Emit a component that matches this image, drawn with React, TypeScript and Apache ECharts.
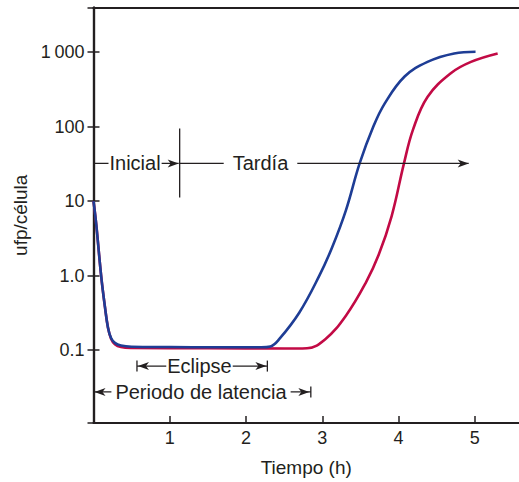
import React, { useEffect, useRef } from "react";
import * as echarts from "echarts";

// ---- data ----
const blueX = [0, 0.035, 0.1, 0.15, 0.19, 0.23, 0.28, 0.36, 0.5, 1.0, 1.6, 2.2, 2.32, 2.435, 2.7, 2.96, 3.13, 3.31, 3.49, 3.67, 3.82, 4.08, 4.38, 4.73, 5.01];
const blueY = [10, 5, 1.0, 0.38, 0.2, 0.145, 0.125, 0.115, 0.111, 0.11, 0.109, 0.109, 0.112, 0.14, 0.32, 0.99, 2.4, 7.5, 32, 100, 205, 470, 740, 960, 1010];
const redX = [0, 0.035, 0.1, 0.15, 0.19, 0.23, 0.28, 0.36, 0.5, 1.5, 2.5, 2.8, 3.04, 3.31, 3.57, 3.74, 3.91, 4.07, 4.19, 4.38, 4.69, 4.95, 5.3];
const redY = [10, 5, 1.0, 0.38, 0.2, 0.142, 0.12, 0.11, 0.107, 0.106, 0.105, 0.106, 0.14, 0.29, 0.8, 1.9, 6.3, 31.6, 91, 250, 525, 740, 960];

const xTickValues = [1, 2, 3, 4, 5];
const xTickLabels = ["1", "2", "3", "4", "5"];
const yTickValues = [0.1, 1, 10, 100, 1000];
const yTickLabels = ["0.1", "1.0", "10", "100", "1\u2009000"];

const xMin = 0;
const xMax = 5.58;
const yMin = 0.0105;
const yMax = 3970;

const xName = "Tiempo (h)";
const yName = "ufp/célula";

// annotation anchors in data coordinates
const phaseRowY = 32;
const phaseDivX = 1.13;
const phaseDivTop = 94;
const phaseDivBottom = 11.2;
const inicialText = "Inicial";
const inicialX = 0.545;
const tardiaText = "Tardía";
const tardiaX = 2.19;
const tardiaEndX = 4.92;
const eclipseText = "Eclipse";
const eclipseRowY = 0.061;
const eclipseStartX = 0.57;
const eclipseEndX = 2.28;
const eclipseTextX = 1.39;
const latText = "Periodo de latencia";
const latRowY = 0.0274;
const latStartX = 0;
const latEndX = 2.85;
const latTextX = 1.41;

const INK = "#231f20";
const BLUE = "#1e3d95";
const RED = "#c20a45";
const FONT = '"Liberation Sans", Arial, Helvetica, sans-serif';

const zipPairs = (xs: number[], ys: number[]) => xs.map((x, i) => [x, ys[i]]);

export default function App() {
  const ref = useRef<HTMLDivElement>(null);
  useEffect(() => {
    if (!ref.current) return;
    const chart = echarts.init(ref.current, undefined, { renderer: "svg" });
    const axisLine = { show: true, lineStyle: { color: INK, width: 2.2 } };
    const option: any = {
      animation: false,
      backgroundColor: "#fff",
      grid: { left: 93.5, top: 7.5, width: 427.5, height: 416.5, containLabel: false },
      xAxis: [
        {
          type: "value",
          min: xMin,
          max: xMax,
          interval: 1,
          position: "bottom",
          axisLine,
          axisTick: { show: true, inside: true, length: 7, lineStyle: { color: INK, width: 1.5 } },
          axisLabel: {
            margin: 6,
            color: INK,
            fontSize: 18,
            fontFamily: FONT,
            showMinLabel: false,
            showMaxLabel: false,
            formatter: (v: number) => {
              const i = xTickValues.findIndex((t) => Math.abs(t - v) < 1e-6);
              return i >= 0 ? xTickLabels[i] : "";
            },
          },
          splitLine: { show: false },
          name: xName,
          nameLocation: "middle",
          nameGap: 35,
          nameTextStyle: { color: INK, fontSize: 19, fontFamily: FONT },
        },
        {
          type: "value",
          min: xMin,
          max: xMax,
          interval: 1,
          position: "top",
          axisLine,
          axisTick: { show: false },
          axisLabel: { show: false },
          splitLine: { show: false },
        },
      ],
      yAxis: [
        {
          type: "log",
          logBase: 10,
          min: yMin,
          max: yMax,
          position: "left",
          axisLine,
          axisTick: { show: true, inside: true, length: 6, lineStyle: { color: INK, width: 1.5 } },
          axisLabel: {
            margin: 9,
            color: INK,
            fontSize: 18,
            fontFamily: FONT,
            formatter: (v: number) => {
              const i = yTickValues.findIndex((t) => Math.abs(Math.log10(t) - Math.log10(v)) < 1e-6);
              return i >= 0 ? yTickLabels[i] : "";
            },
          },
          splitLine: { show: false },
          name: yName,
          nameLocation: "middle",
          nameGap: 62,
          nameTextStyle: { color: INK, fontSize: 19, fontFamily: FONT },
        },
        {
          type: "log",
          logBase: 10,
          min: yMin,
          max: yMax,
          position: "right",
          axisLine,
          axisTick: { show: true, inside: true, length: 6, lineStyle: { color: INK, width: 1.5 } },
          axisLabel: { show: false },
          splitLine: { show: false },
        },
      ],
      series: [
        {
          type: "line",
          data: zipPairs(redX, redY),
          xAxisIndex: 0,
          yAxisIndex: 0,
          showSymbol: false,
          smooth: 0.4,
          lineStyle: { color: RED, width: 2.6 },
          z: 2,
        },
        {
          type: "line",
          data: zipPairs(blueX, blueY),
          xAxisIndex: 0,
          yAxisIndex: 0,
          showSymbol: false,
          smooth: 0.4,
          lineStyle: { color: BLUE, width: 2.6 },
          z: 3,
        },
      ],
    };
    chart.setOption(option);

    const px = (x: number, y: number) =>
      chart.convertToPixel({ xAxisIndex: 0, yAxisIndex: 0 }, [x, y]) as number[];
    const lw = 1.3;
    const els: any[] = [];
    const line = (x1: number, y1: number, x2: number, y2: number) =>
      els.push({ type: "line", z: 10, shape: { x1, y1, x2, y2 }, style: { stroke: INK, lineWidth: lw } });
    const arrow = (tx: number, ty: number, dir: number) =>
      els.push({
        type: "polygon",
        z: 12,
        shape: { points: [[tx, ty], [tx - dir * 11, ty - 4], [tx - dir * 8, ty], [tx - dir * 11, ty + 4]] },
        style: { fill: INK },
      });
    const bar = (x: number, y: number) => line(x, y - 5.5, x, y + 5.5);
    const label = (text: string, x: number, y: number, padX: number) =>
      els.push({
        type: "text",
        z: 11,
        x,
        y,
        style: {
          text,
          fill: INK,
          font: `20px ${FONT}`,
          align: "center",
          verticalAlign: "middle",
          textAlign: "center",
          textVerticalAlign: "middle",
          backgroundColor: "#fff",
          padding: [0, padX],
        },
      });

    // Row 1: Inicial | Tardía
    const [x0, r1] = px(xMin, phaseRowY);
    const [xd] = px(phaseDivX, phaseRowY);
    const [, dTop] = px(phaseDivX, phaseDivTop);
    const [, dBot] = px(phaseDivX, phaseDivBottom);
    const [xIn] = px(inicialX, phaseRowY);
    const [xTa] = px(tardiaX, phaseRowY);
    const [xTe] = px(tardiaEndX, phaseRowY);
    line(x0, r1, xd - 1, r1);
    arrow(xd - 1, r1, 1);
    line(xd, dTop, xd, dBot);
    line(xd, r1, xTe, r1);
    arrow(xTe, r1, 1);
    label(inicialText, xIn, r1, 1);
    label(tardiaText, xTa, r1, 9);

    // Row 2: Eclipse
    const [xes, r2] = px(eclipseStartX, eclipseRowY);
    const [xee] = px(eclipseEndX, eclipseRowY);
    const [xet] = px(eclipseTextX, eclipseRowY);
    bar(xes, r2);
    line(xes, r2, xee, r2);
    arrow(xes + 1, r2, -1);
    arrow(xee - 1, r2, 1);
    bar(xee, r2);
    label(eclipseText, xet, r2, 1);

    // Row 3: Periodo de latencia
    const [xls, r3] = px(latStartX, latRowY);
    const [xle] = px(latEndX, latRowY);
    const [xlt] = px(latTextX, latRowY);
    line(xls, r3, xle, r3);
    arrow(xls + 1, r3, -1);
    arrow(xle - 1.5, r3, 1);
    bar(xle, r3);
    label(latText, xlt, r3, 4);

    chart.setOption({ graphic: { elements: els } });

    return () => chart.dispose();
  }, []);
  return (
    <div
      ref={ref}
      style={{ position: "fixed", left: 0, top: 0, width: 519, height: 482, background: "#fff" }}
    />
  );
}
